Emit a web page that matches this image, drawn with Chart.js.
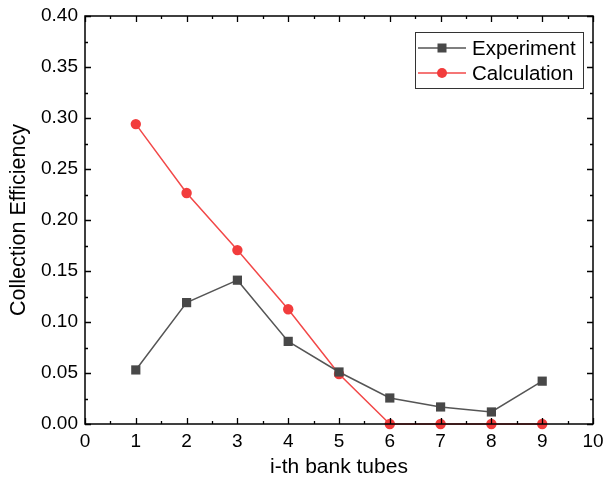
<!DOCTYPE html>
<html>
<head>
<meta charset="utf-8">
<script src="https://cdn.jsdelivr.net/npm/chart.js@4"></script>
<style>
  html, body { margin: 0; padding: 0; background: #fff; }
  #wrap { width: 605px; height: 484px; }
</style>
</head>
<body>
<div id="wrap"><canvas id="chart" width="605" height="484"></canvas></div>
<script>
// data
const tubes = [1, 2, 3, 4, 5, 6, 7, 8, 9];
const experiment = [0.053, 0.119, 0.141, 0.081, 0.051, 0.0255, 0.0167, 0.0118, 0.042];
const calculation = [0.294, 0.2265, 0.1705, 0.1125, 0.049, 0, 0, 0, 0];
const xTicks = [0, 1, 2, 3, 4, 5, 6, 7, 8, 9, 10];
const yTicks = [0, 0.05, 0.1, 0.15, 0.2, 0.25, 0.3, 0.35, 0.4];

const FONT = 'Liberation Sans, Arial, sans-serif';

// frame + inward ticks on all four sides, like the original
const frameTicks = {
    id: 'frameTicks',
    afterDraw(chart) {
        const { ctx, chartArea: a, scales } = chart;
        const x = scales.x, y = scales.y;
        ctx.save();
        ctx.strokeStyle = '#000';
        ctx.lineWidth = 1.5;
        ctx.strokeRect(a.left, a.top, a.right - a.left, a.bottom - a.top);
        ctx.lineWidth = 1.3;
        ctx.beginPath();
        for (let v = 0; v <= 10.001; v += 0.5) {
            const px = Math.round(x.getPixelForValue(v)) + 0.5;
            const len = Math.abs(v % 1) < 0.01 ? 6 : 3;
            ctx.moveTo(px, a.bottom); ctx.lineTo(px, a.bottom - len);
            ctx.moveTo(px, a.top); ctx.lineTo(px, a.top + len);
        }
        for (let i = 0; i <= 16; i++) {
            const v = i * 0.025;
            const py = Math.round(y.getPixelForValue(v)) + 0.5;
            const len = i % 2 === 0 ? 6 : 3;
            ctx.moveTo(a.left, py); ctx.lineTo(a.left + len, py);
            ctx.moveTo(a.right, py); ctx.lineTo(a.right - len, py);
        }
        ctx.stroke();
        ctx.restore();
    }
};

// boxed legend inside the plot, top right
const boxLegend = {
    id: 'boxLegend',
    afterDraw(chart) {
        const ctx = chart.ctx;
        const bx = 415, by = 32, bw = 168, bh = 56;
        ctx.save();
        ctx.fillStyle = '#fff';
        ctx.fillRect(bx, by, bw, bh);
        ctx.strokeStyle = '#333';
        ctx.lineWidth = 1;
        ctx.strokeRect(bx + 0.5, by + 0.5, bw, bh);
        chart.data.datasets.forEach((ds, i) => {
            const cy = 48 + i * 25;
            ctx.strokeStyle = ds.borderColor;
            ctx.lineWidth = ds.borderWidth;
            ctx.beginPath();
            ctx.moveTo(418, cy); ctx.lineTo(466, cy);
            ctx.stroke();
            ctx.fillStyle = ds.pointBackgroundColor;
            if (ds.pointStyle === 'rect') {
                ctx.fillRect(437.5, cy - 4.5, 9, 9);
            } else {
                ctx.beginPath();
                ctx.arc(442, cy, 5, 0, Math.PI * 2);
                ctx.fill();
            }
            ctx.fillStyle = '#000';
            ctx.font = '20.5px ' + FONT;
            ctx.textBaseline = 'middle';
            ctx.fillText(ds.label, 472, cy + 1);
        });
        ctx.restore();
    }
};

new Chart(document.getElementById('chart'), {
    type: 'line',
    data: {
        datasets: [
            {
                label: 'Experiment',
                data: tubes.map((t, i) => ({ x: t, y: experiment[i] })),
                borderColor: '#555555',
                borderWidth: 1.5,
                pointStyle: 'rect',
                pointRadius: 6.5,
                pointBackgroundColor: '#484848',
                pointBorderWidth: 0,
                clip: false
            },
            {
                label: 'Calculation',
                data: tubes.map((t, i) => ({ x: t, y: calculation[i] })),
                borderColor: '#f24848',
                borderWidth: 1.5,
                pointStyle: 'circle',
                pointRadius: 5.2,
                pointBackgroundColor: '#f23c3c',
                pointBorderWidth: 0,
                clip: false
            }
        ]
    },
    options: {
        responsive: false,
        animation: false,
        layout: { padding: { left: 0, top: 16, right: 12, bottom: 0 } },
        plugins: {
            legend: { display: false },
            tooltip: { enabled: false }
        },
        scales: {
            x: {
                type: 'linear',
                min: 0,
                max: 10,
                afterBuildTicks: s => { s.ticks = xTicks.map(v => ({ value: v })); },
                afterFit: s => { s.height = 60; s.paddingLeft = 0; s.paddingRight = 0; },
                grid: { display: false, drawTicks: false },
                border: { display: false },
                ticks: { color: '#000', font: { size: 19, family: FONT }, padding: 6, maxRotation: 0 },
                title: { display: true, text: 'i-th bank tubes', color: '#000', font: { size: 21, family: FONT }, padding: { top: 6 } }
            },
            y: {
                min: 0,
                max: 0.4,
                afterBuildTicks: s => { s.ticks = yTicks.map(v => ({ value: v })); },
                afterFit: s => { s.width = 85; s.paddingTop = 0; s.paddingBottom = 0; },
                grid: { display: false, drawTicks: false },
                border: { display: false },
                ticks: { color: '#000', font: { size: 19, family: FONT }, padding: 7, callback: v => v.toFixed(2) },
                title: { display: true, text: 'Collection Efficiency', color: '#000', font: { size: 21.5, family: FONT }, padding: { top: 6, bottom: 6 } }
            }
        }
    },
    plugins: [frameTicks, boxLegend]
});
</script>
</body>
</html>
